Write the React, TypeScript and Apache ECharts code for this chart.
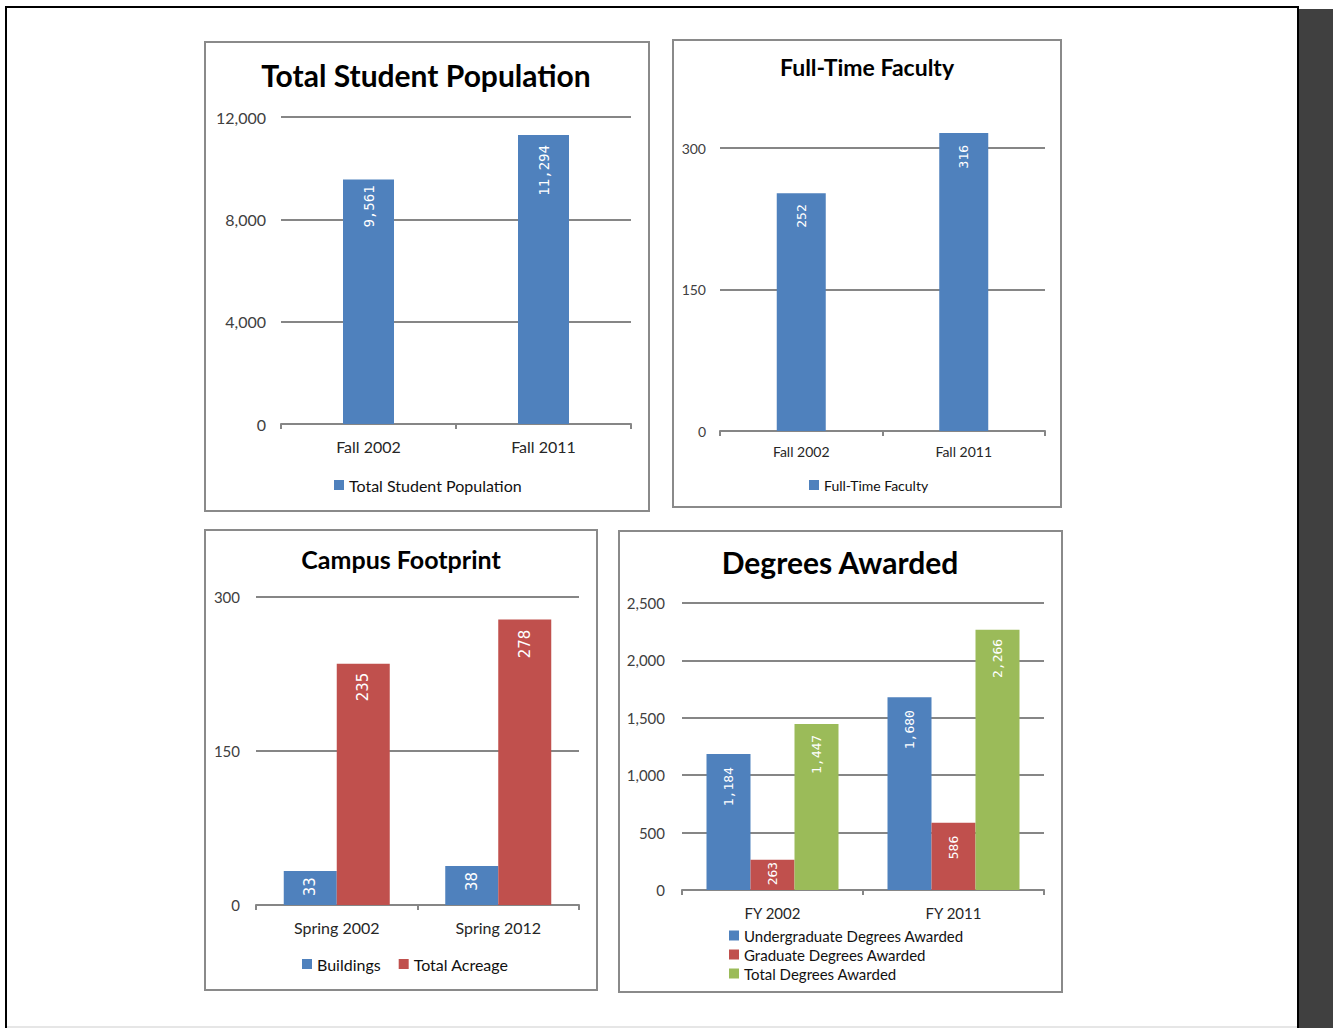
import React, { useEffect, useRef } from "react";
import * as echarts from "echarts";

// ---- Data ----
const studentCategories = ["Fall 2002", "Fall 2011"];
const studentValues = [9561, 11294];
const studentAxis = { max: 12000, interval: 4000 };

const facultyCategories = ["Fall 2002", "Fall 2011"];
const facultyValues = [252, 316];
const facultyAxis = { max: 300, interval: 150 };

const campusCategories = ["Spring 2002", "Spring 2012"];
const buildingValues = [33, 38];
const acreageValues = [235, 278];
const campusAxis = { max: 300, interval: 150 };

const degreeCategories = ["FY 2002", "FY 2011"];
const undergradValues = [1184, 1680];
const graduateValues = [263, 586];
const totalDegreeValues = [1447, 2266];
const degreeAxis = { max: 2500, interval: 500 };

// ---- Styling ----
const FONT = "Lato, 'Open Sans', sans-serif";
const MONO = "'DejaVu Sans Mono', monospace";
const SANS = "'DejaVu Sans', sans-serif";
const BLUE = "#4F81BD";
const RED = "#C0504D";
const GREEN = "#9BBB59";
const LINE = "#868686";

const fmt = (v: number) => Number(v).toLocaleString("en-US");

function xAxisFor(idx: number, data: string[], fontSize: number, margin: number) {
  return {
    type: "category",
    gridIndex: idx,
    data,
    axisLine: { lineStyle: { color: LINE, width: 2 } },
    axisTick: { show: true, length: 5, lineStyle: { color: LINE, width: 2 } },
    axisLabel: { color: "#262626", fontFamily: FONT, fontSize, margin },
  };
}

function yAxisFor(idx: number, axis: { max: number; interval: number }, fontSize: number, margin: number) {
  return {
    type: "value",
    gridIndex: idx,
    min: 0,
    max: axis.max,
    interval: axis.interval,
    axisLine: { show: false },
    axisTick: { show: false },
    splitLine: { lineStyle: { color: LINE, width: 2 } },
    axisLabel: { formatter: (v: number) => fmt(v), color: "#404040", fontFamily: FONT, fontSize, margin },
  };
}

// Bars with white value labels written upward just inside the top of each bar.
function barSeries(
  idx: number,
  name: string,
  values: number[],
  color: string,
  barWidth: number,
  labelFont: string,
  labelSize: number,
  distances: number[]
) {
  return {
    type: "bar",
    name,
    xAxisIndex: idx,
    yAxisIndex: idx,
    data: values.map((v, i) => ({ value: v, label: { distance: distances[i] } })),
    barWidth,
    barGap: "0%",
    clip: false,
    itemStyle: { color },
    label: {
      show: true,
      position: "insideTop",
      rotate: 90,
      align: "right",
      verticalAlign: "middle",
      color: "#ffffff",
      fontFamily: labelFont,
      fontSize: labelSize,
      formatter: (p: any) => fmt(p.value),
    },
  };
}

function titleFor(text: string, cx: number, top: number, fontSize: number) {
  return {
    text,
    left: cx,
    top,
    textAlign: "center",
    padding: 0,
    textStyle: { fontFamily: FONT, fontWeight: "bold", fontSize, color: "#000" },
  };
}

function legendFor(names: string[], left: number, top: number, fontSize: number, orient: string, itemGap: number) {
  return {
    data: names,
    left,
    top,
    orient,
    padding: 0,
    icon: "rect",
    itemWidth: 10,
    itemHeight: 10,
    itemGap,
    selectedMode: false,
    textStyle: { fontFamily: FONT, fontSize, color: "#111", lineHeight: fontSize },
  };
}

function panelBox(x: number, y: number, w: number, h: number) {
  return {
    type: "rect",
    shape: { x, y, width: w, height: h },
    style: { fill: "#ffffff", stroke: "#8a8a8a", lineWidth: 2 },
    z: -10,
  };
}

export default function App() {
  const ref = useRef<HTMLDivElement>(null);

  useEffect(() => {
    if (!ref.current) return;
    const chart = echarts.init(ref.current, undefined, { renderer: "svg" });

    const option: any = {
      animation: false,
      backgroundColor: "#ffffff",
      graphic: [
        // page frame
        { type: "rect", shape: { x: 1299, y: 9, width: 34, height: 1019 }, style: { fill: "#404040" }, z: -20 },
        { type: "line", shape: { x1: 7, y1: 1027, x2: 1297, y2: 1027 }, style: { stroke: "#e6e6e6", lineWidth: 2 }, z: -20 },
        { type: "line", shape: { x1: 6, y1: 6, x2: 6, y2: 1028 }, style: { stroke: "#000", lineWidth: 2 }, z: -20 },
        { type: "line", shape: { x1: 5, y1: 7, x2: 1299, y2: 7 }, style: { stroke: "#000", lineWidth: 2 }, z: -20 },
        { type: "line", shape: { x1: 1298, y1: 6, x2: 1298, y2: 1028 }, style: { stroke: "#000", lineWidth: 2 }, z: -20 },
        // chart panels
        panelBox(205, 42, 444, 469),
        panelBox(673, 40, 388, 467),
        panelBox(205, 530, 392, 460),
        panelBox(619, 531, 443, 461),
      ],
      title: [
        titleFor("Total Student Population", 426, 60, 30),
        titleFor("Full-Time Faculty", 867, 55, 23),
        titleFor("Campus Footprint", 401, 546, 25),
        titleFor("Degrees Awarded", 840, 547, 30),
      ],
      legend: [
        legendFor(["Total Student Population"], 334, 477, 16, "horizontal", 10),
        legendFor(["Full-Time Faculty"], 809, 478, 14, "horizontal", 10),
        legendFor(["Buildings", "Total Acreage"], 302, 956, 16, "horizontal", 18),
        legendFor(
          ["Undergraduate Degrees Awarded", "Graduate Degrees Awarded", "Total Degrees Awarded"],
          729,
          928,
          15,
          "vertical",
          4
        ),
      ],
      grid: [
        { left: 281, top: 117, width: 350, height: 307 },
        { left: 720, top: 148, width: 325, height: 283 },
        { left: 256, top: 597, width: 323, height: 308 },
        { left: 682, top: 603, width: 362, height: 287 },
      ],
      xAxis: [
        xAxisFor(0, studentCategories, 16, 14),
        xAxisFor(1, facultyCategories, 14, 13),
        xAxisFor(2, campusCategories, 16, 14),
        xAxisFor(3, degreeCategories, 15, 15),
      ],
      yAxis: [
        yAxisFor(0, studentAxis, 16, 15),
        yAxisFor(1, facultyAxis, 14, 14),
        yAxisFor(2, campusAxis, 15, 16),
        yAxisFor(3, degreeAxis, 15, 17),
      ],
      series: [
        barSeries(0, "Total Student Population", studentValues, BLUE, 51, MONO, 14, [6, 10]),
        barSeries(1, "Full-Time Faculty", facultyValues, BLUE, 49, MONO, 13, [11, 12]),
        barSeries(2, "Buildings", buildingValues, BLUE, 53, SANS, 15, [6, 6]),
        barSeries(2, "Total Acreage", acreageValues, RED, 53, SANS, 15, [9, 10]),
        barSeries(3, "Undergraduate Degrees Awarded", undergradValues, BLUE, 44, MONO, 13, [13, 13]),
        barSeries(3, "Graduate Degrees Awarded", graduateValues, RED, 44, MONO, 13, [2, 13]),
        barSeries(3, "Total Degrees Awarded", totalDegreeValues, GREEN, 44, MONO, 13, [11, 9]),
      ],
    };

    chart.setOption(option);
    return () => chart.dispose();
  }, []);

  return (
    <div
      ref={ref}
      style={{ position: "fixed", left: 0, top: 0, width: 1333, height: 1028, background: "#ffffff" }}
    />
  );
}
